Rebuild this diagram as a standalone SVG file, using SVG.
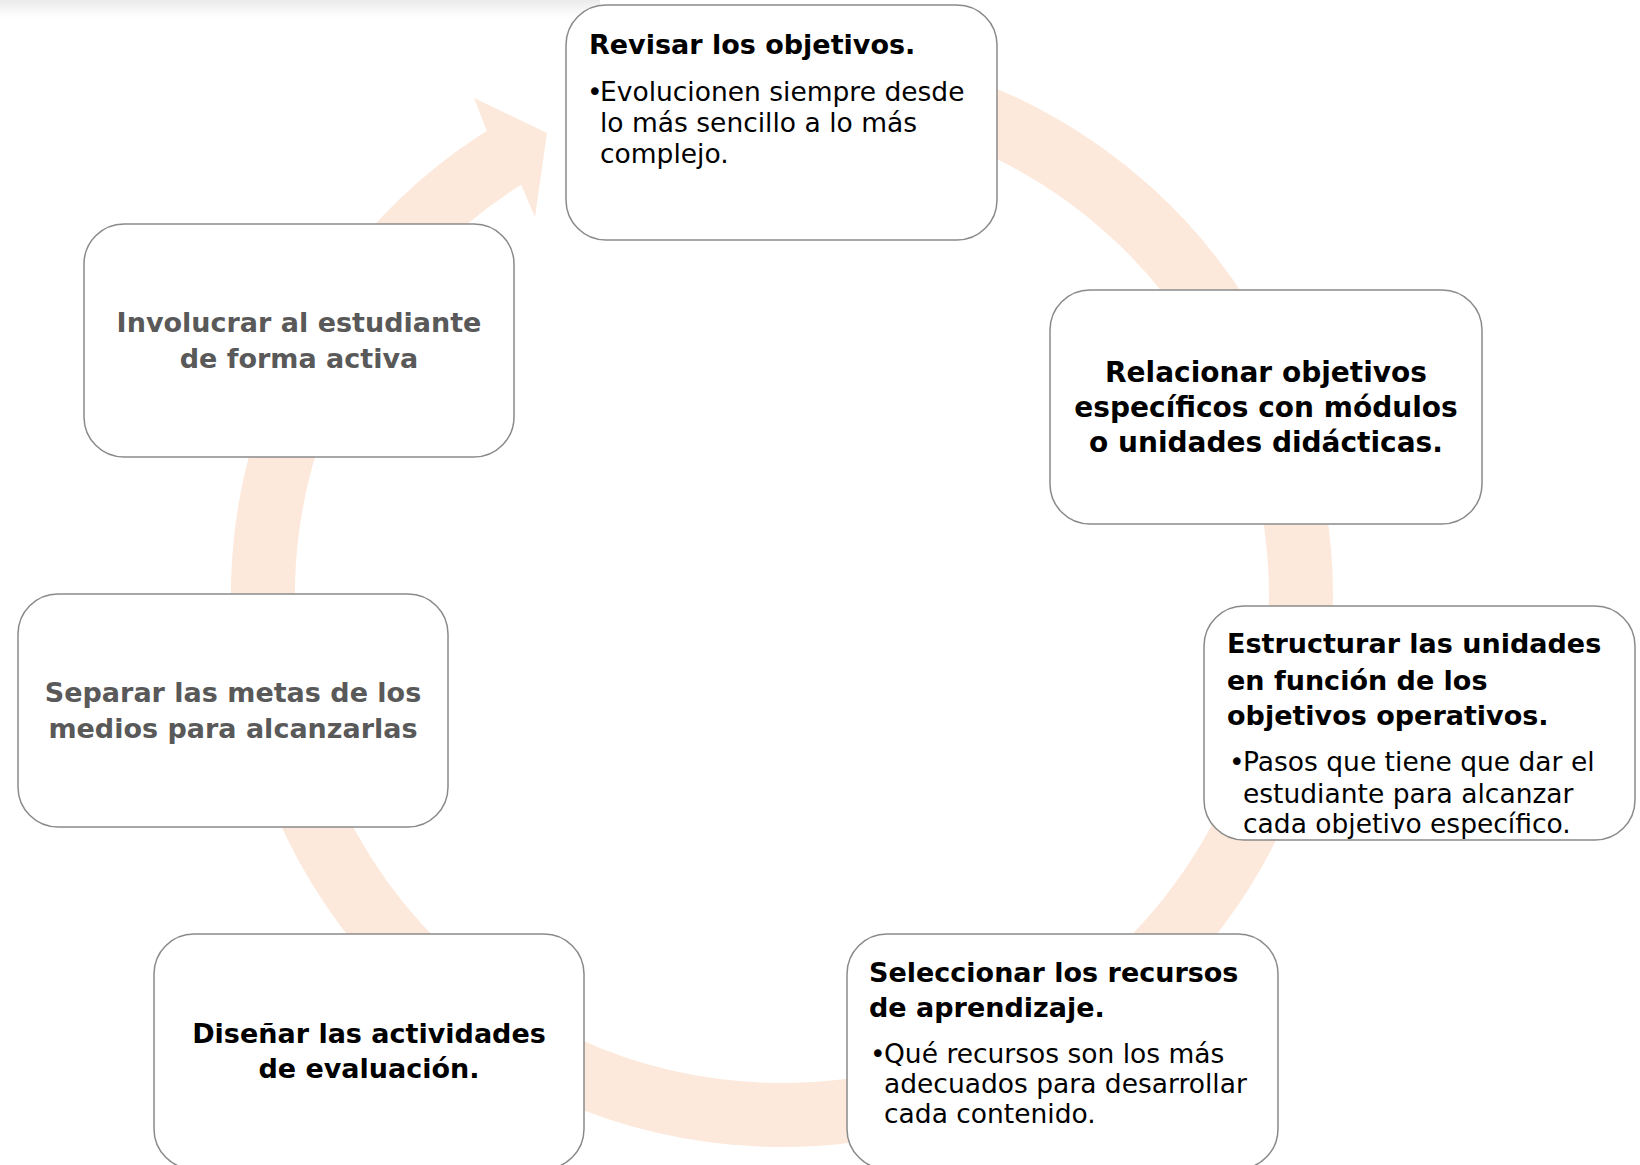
<svg xmlns="http://www.w3.org/2000/svg" width="1640" height="1165" viewBox="0 0 1640 1165">
<defs>
<linearGradient id="topfade" x1="0" y1="0" x2="0" y2="1">
<stop offset="0" stop-color="#ebebeb"/>
<stop offset="1" stop-color="#ffffff"/>
</linearGradient>
<style>
.box{fill:#ffffff;stroke:#8a8a8a;stroke-width:1.5}
.t{font-family:"DejaVu Sans","Liberation Sans",sans-serif;font-weight:bold;font-size:27px;fill:#000000}
.big{font-size:28px}
.g{fill:#595959}
.b{font-family:"DejaVu Sans","Liberation Sans",sans-serif;font-size:26.5px;fill:#000000}
.band{fill:none;stroke:#fde9db;stroke-width:64}
.head{fill:#fde9db}
</style>
</defs>
<rect x="0" y="0" width="1640" height="1165" fill="#ffffff"/>
<rect x="0" y="0" width="600" height="18" fill="url(#topfade)"/>
<g id="connectors">
<path class="band" d="M 647.7 94.7 A 519 519 0 1 1 514.7 151.1"/>
<polygon class="head" points="486.8,130.8 474,98 547,133 535,217 521.1,184.8"/>
</g>
<g id="node-revisar">
<rect class="box" x="566" y="5" width="431" height="235" rx="40"/>
<text class="t" x="589" y="54">Revisar los objetivos.</text>
<text class="b" x="587" y="101">•</text>
<text class="b" x="600" y="101">Evolucionen siempre desde</text>
<text class="b" x="600" y="132">lo más sencillo a lo más</text>
<text class="b" x="600" y="163">complejo.</text>
</g>
<g id="node-relacionar">
<rect class="box" x="1050" y="290" width="432" height="234" rx="40"/>
<text class="t big" text-anchor="middle" x="1266" y="382">Relacionar objetivos</text>
<text class="t big" text-anchor="middle" x="1266" y="417">específicos con módulos</text>
<text class="t big" text-anchor="middle" x="1266" y="452">o unidades didácticas.</text>
</g>
<g id="node-estructurar">
<rect class="box" x="1204" y="606" width="431" height="234" rx="40"/>
<text class="t" x="1227" y="653">Estructurar las unidades</text>
<text class="t" x="1227" y="690">en función de los</text>
<text class="t" x="1227" y="725">objetivos operativos.</text>
<text class="b" x="1229" y="771">•</text>
<text class="b" x="1243" y="771">Pasos que tiene que dar el</text>
<text class="b" x="1243" y="803">estudiante para alcanzar</text>
<text class="b" x="1243" y="833">cada objetivo específico.</text>
</g>
<g id="node-seleccionar">
<rect class="box" x="847" y="934" width="431" height="235" rx="40"/>
<text class="t" x="869" y="982">Seleccionar los recursos</text>
<text class="t" x="869" y="1017">de aprendizaje.</text>
<text class="b" x="870" y="1063">•</text>
<text class="b" x="884" y="1063">Qué recursos son los más</text>
<text class="b" x="884" y="1093">adecuados para desarrollar</text>
<text class="b" x="884" y="1123">cada contenido.</text>
</g>
<g id="node-disenar">
<rect class="box" x="154" y="934" width="430" height="235" rx="40"/>
<text class="t" text-anchor="middle" x="369" y="1043">Diseñar las actividades</text>
<text class="t" text-anchor="middle" x="369" y="1078">de evaluación.</text>
</g>
<g id="node-separar">
<rect class="box" x="18" y="594" width="430" height="233" rx="40"/>
<text class="t g" text-anchor="middle" x="233" y="702">Separar las metas de los</text>
<text class="t g" text-anchor="middle" x="233" y="738">medios para alcanzarlas</text>
</g>
<g id="node-involucrar">
<rect class="box" x="84" y="224" width="430" height="233" rx="40"/>
<text class="t g" text-anchor="middle" x="299" y="332">Involucrar al estudiante</text>
<text class="t g" text-anchor="middle" x="299" y="368">de forma activa</text>
</g>
</svg>
